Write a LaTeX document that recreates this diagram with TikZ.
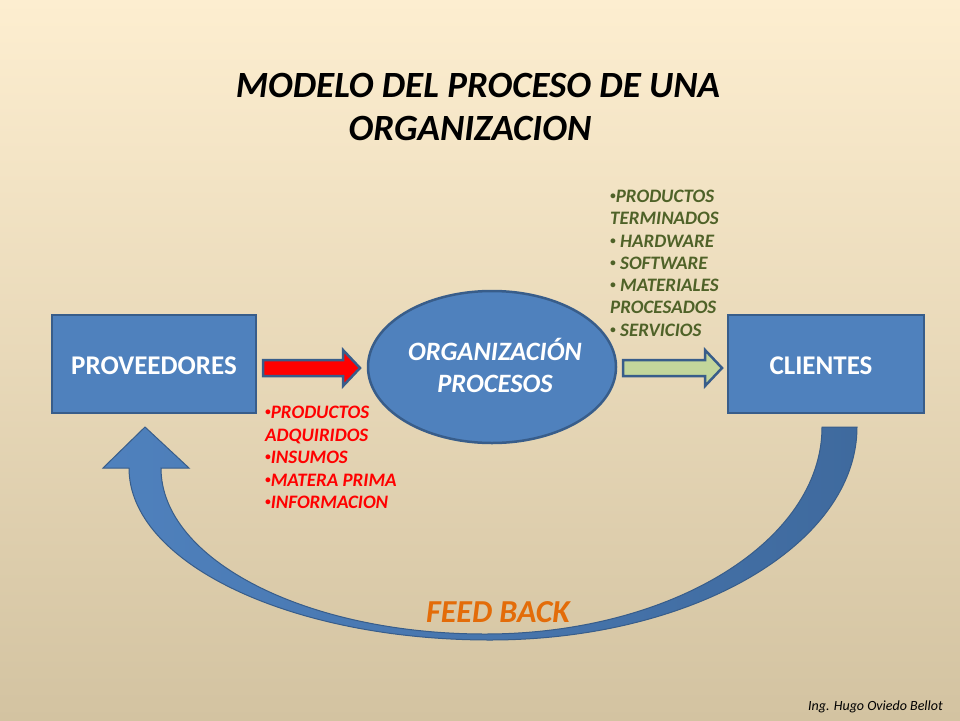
\documentclass[tikz,border=0pt]{standalone}
\usepackage{fontspec}
\usepackage{graphicx}
\setmainfont{Carlito}
\newcommand{\smallbul}{\raisebox{0.22ex}{\scalebox{0.6}{•}}}
\definecolor{bgtop}{HTML}{FDEED0}
\definecolor{bgmid}{HTML}{F2EBD7}
\definecolor{bgbot}{HTML}{D3C3A1}
\definecolor{boxfill}{HTML}{4F81BD}
\definecolor{boxline}{HTML}{385D8A}
\definecolor{darkarc}{HTML}{3F6A9E}
\definecolor{greenfill}{HTML}{C3D69B}
\definecolor{olive}{HTML}{4F6228}
\definecolor{feedorange}{HTML}{E36C09}
\begin{document}
\begin{tikzpicture}[x=1pt,y=-1pt,
  blockbox/.style={draw=boxline,line width=2.5pt,fill=boxfill,minimum width=204pt,minimum height=98pt,inner sep=0pt},
  boxtext/.style={text=white,font=\fontsize{27}{32}\selectfont\bfseries,inner sep=0pt,anchor=base},
  ovaltext/.style={text=white,font=\fontsize{26.5}{31}\selectfont\bfseries\itshape,inner sep=0pt,anchor=base},
  titletext/.style={text=black,font=\fontsize{37}{44}\selectfont\bfseries\itshape,inner sep=0pt,anchor=base},
  redlist/.style={text=red,font=\fontsize{19}{22}\selectfont\bfseries\itshape,inner sep=0pt,anchor=base west},
  greenlist/.style={text=olive,font=\fontsize{19}{22}\selectfont\bfseries\itshape,inner sep=0pt,anchor=base west},
  blockarrow/.style={draw=boxline,line width=2.5pt,line join=miter}
]
\useasboundingbox (0,0) rectangle (960,720);
\shade[top color=bgtop,middle color=bgmid,bottom color=bgbot] (0,0) rectangle (960,720);

% title
\node[titletext] (t1) at (478,97) {MODELO DEL PROCESO DE UNA};
\node[titletext] (t2) at (470,140) {ORGANIZACION};

% boxes
\node[blockbox] (prov) at (154,364) {};
\node[boxtext] (provt) at (154,374) {PROVEEDORES};
\node[blockbox,minimum width=196pt] (cli) at (826,364) {};
\node[boxtext] (clit) at (821,374) {CLIENTES};

% ellipse
\draw[draw=boxline,line width=2.5pt,fill=boxfill] (492,367) ellipse [x radius=124,y radius=76];
\node[ovaltext] (org1) at (495,360) {ORGANIZACIÓN};
\node[ovaltext] (org2) at (495,392) {PROCESOS};

% red arrow
\draw[blockarrow,fill=red] (263,360) -- (343,360) -- (343,350) -- (360,368) -- (343,386) -- (343,376) -- (263,376) -- cycle;
% green arrow
\draw[blockarrow,fill=greenfill] (623,360) -- (705,360) -- (705,350) -- (722,368) -- (705,386) -- (705,376) -- (623,376) -- cycle;

% red list
\node[redlist] (r1) at (265,418) {\smallbul PRODUCTOS};
\node[redlist] (r2) at (265,441) {ADQUIRIDOS};
\node[redlist] (r3) at (265,463) {\smallbul INSUMOS};
\node[redlist] (r4) at (265,486) {\smallbul MATERA PRIMA};
\node[redlist] (r5) at (265,508) {\smallbul INFORMACION};

% green list
\node[greenlist] (g1) at (610,202) {\smallbul PRODUCTOS};
\node[greenlist] (g2) at (610,224) {TERMINADOS};
\node[greenlist] (g3) at (610,247) {\smallbul\ HARDWARE};
\node[greenlist] (g4) at (610,269) {\smallbul\ SOFTWARE};
\node[greenlist] (g5) at (610,291) {\smallbul\ MATERIALES};
\node[greenlist] (g6) at (610,313) {PROCESADOS};
\node[greenlist] (g7) at (610,336) {\smallbul\ SERVICIOS};

% curved feedback arrow
\path[draw=boxline,line width=1pt,left color=boxfill,right color=darkarc,line join=miter]
  (857,427) .. controls (857,544.6) and (692.7,640) .. (490,640)
  .. controls (290.6,640) and (129,563) .. (129,468)
  -- (103,468) -- (145,427) -- (189,468) -- (161,468)
  .. controls (161,559.7) and (306.1,634) .. (485,634)
  .. controls (671.1,634) and (822,541.3) .. (822,427) -- cycle;

\node[text=feedorange,font=\fontsize{32}{38}\selectfont\bfseries\itshape,inner sep=0pt,anchor=base] (fb) at (498,622) {FEED BACK};
\node[text=black,font=\fontsize{14}{17}\selectfont\itshape,inner sep=0pt,anchor=base east] (foot) at (943,710) {Ing. Hugo Oviedo Bellot};
\end{tikzpicture}
\end{document}
